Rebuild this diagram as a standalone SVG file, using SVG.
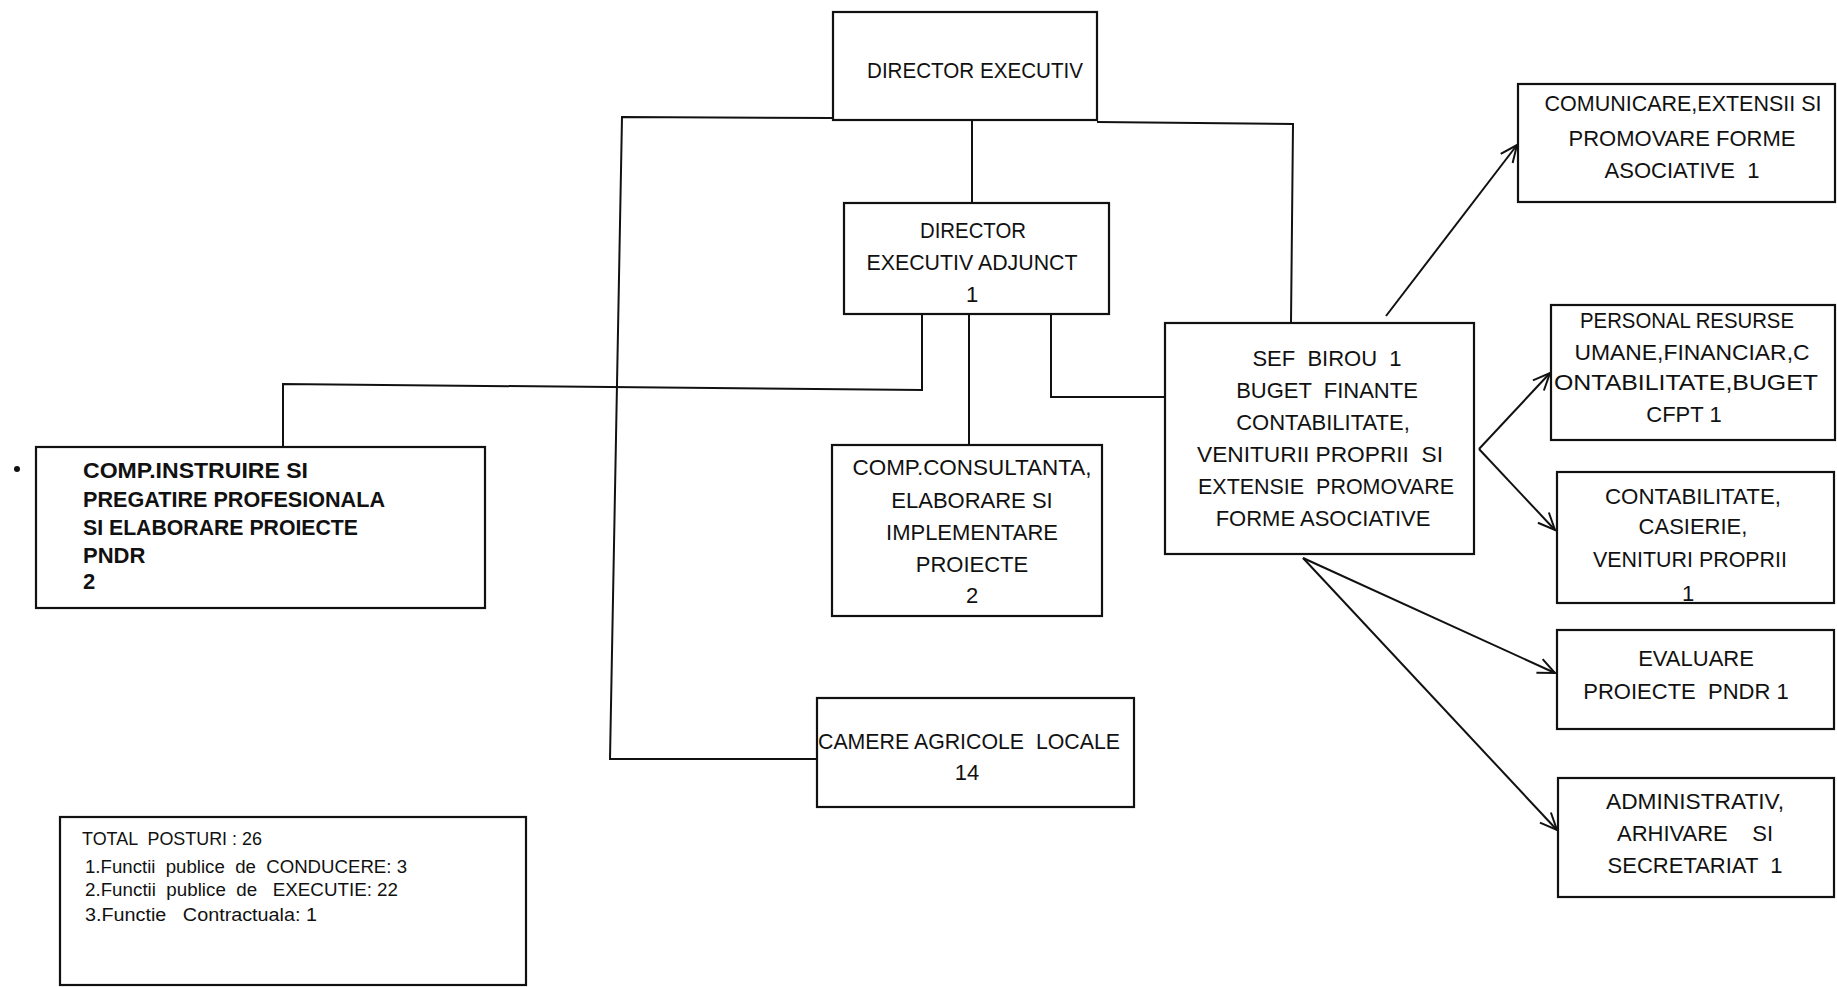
<svg xmlns="http://www.w3.org/2000/svg" width="1837" height="987" viewBox="0 0 1837 987">
<style>
.box{fill:#fff;stroke:#111;stroke-width:2.2}
.t{font-family:"Liberation Sans",Arial,sans-serif;font-size:22px;fill:#111;white-space:pre}
.c{text-anchor:middle}
.b{font-weight:bold}
.s{font-size:17.5px}
.ln{fill:none;stroke:#111;stroke-width:2}
</style>
<defs>
<marker id="arr" markerUnits="userSpaceOnUse" markerWidth="22" markerHeight="18" refX="19" refY="9" orient="auto">
<path d="M2,1.5 L19,9 L2,16.5" fill="none" stroke="#111" stroke-width="2"/>
</marker>
</defs>
<rect width="1837" height="987" fill="#fff"/>
<g id="connectors">
<path class="ln" d="M833,118 L622,117 L610,759 L817,759"/>
<path class="ln" d="M1097,122 L1293,124 L1291,323"/>
<path class="ln" d="M972,120 L972,203"/>
<path class="ln" d="M922,314 L922,390 L283,384 L283,447"/>
<path class="ln" d="M969,314 L969,445"/>
<path class="ln" d="M1051,314 L1051,397 L1165,397"/>
<path class="ln" d="M1386,316 L1517,145" marker-end="url(#arr)"/>
<path class="ln" d="M1479,449 L1550,373" marker-end="url(#arr)"/>
<path class="ln" d="M1479,449 L1555,530" marker-end="url(#arr)"/>
<path class="ln" d="M1303,558 L1555,673" marker-end="url(#arr)"/>
<path class="ln" d="M1303,558 L1557,830" marker-end="url(#arr)"/>
</g>
<g id="director">
<rect class="box" x="833" y="12" width="264" height="108"/>
<text class="t" x="867" y="78" textLength="216" lengthAdjust="spacingAndGlyphs">DIRECTOR EXECUTIV</text>
</g>
<g id="director-adjunct">
<rect class="box" x="844" y="203" width="265" height="111"/>
<text class="t c" x="973" y="238" textLength="106" lengthAdjust="spacingAndGlyphs">DIRECTOR</text>
<text class="t c" x="972" y="270" textLength="211" lengthAdjust="spacingAndGlyphs">EXECUTIV ADJUNCT</text>
<text class="t c" x="972" y="302">1</text>
</g>
<g id="comp-instruire">
<circle cx="17" cy="469" r="3" fill="#111"/>
<rect class="box" x="36" y="447" width="449" height="161"/>
<text class="t b" x="83" y="478" textLength="225" lengthAdjust="spacingAndGlyphs">COMP.INSTRUIRE SI</text>
<text class="t b" x="83" y="507" textLength="302" lengthAdjust="spacingAndGlyphs">PREGATIRE PROFESIONALA</text>
<text class="t b" x="83" y="535" textLength="275" lengthAdjust="spacingAndGlyphs">SI ELABORARE PROIECTE</text>
<text class="t b" x="83" y="563">PNDR</text>
<text class="t b" x="83" y="589">2</text>
</g>
<g id="comp-consultanta">
<rect class="box" x="832" y="445" width="270" height="171"/>
<text class="t c" x="972" y="475" textLength="239" lengthAdjust="spacingAndGlyphs">COMP.CONSULTANTA,</text>
<text class="t c" x="972" y="508">ELABORARE SI</text>
<text class="t c" x="972" y="540">IMPLEMENTARE</text>
<text class="t c" x="972" y="572">PROIECTE</text>
<text class="t c" x="972" y="603">2</text>
</g>
<g id="camere">
<rect class="box" x="817" y="698" width="317" height="109"/>
<text class="t" x="818" y="749" textLength="302" lengthAdjust="spacingAndGlyphs">CAMERE AGRICOLE  LOCALE</text>
<text class="t c" x="967" y="780">14</text>
</g>
<g id="sef-birou">
<rect class="box" x="1165" y="323" width="309" height="231"/>
<text class="t c" x="1327" y="366">SEF  BIROU  1</text>
<text class="t c" x="1327" y="398">BUGET  FINANTE</text>
<text class="t c" x="1323" y="430">CONTABILITATE,</text>
<text class="t c" x="1320" y="462" textLength="246" lengthAdjust="spacingAndGlyphs">VENITURII PROPRII  SI</text>
<text class="t c" x="1326" y="494" textLength="256" lengthAdjust="spacingAndGlyphs">EXTENSIE  PROMOVARE</text>
<text class="t c" x="1323" y="526">FORME ASOCIATIVE</text>
</g>
<g id="comunicare">
<rect class="box" x="1518" y="84" width="317" height="118"/>
<text class="t c" x="1683" y="111" textLength="277" lengthAdjust="spacingAndGlyphs">COMUNICARE,EXTENSII SI</text>
<text class="t c" x="1682" y="146">PROMOVARE FORME</text>
<text class="t c" x="1682" y="178">ASOCIATIVE  1</text>
</g>
<g id="personal">
<rect class="box" x="1551" y="305" width="284" height="135"/>
<text class="t c" x="1687" y="328" textLength="214" lengthAdjust="spacingAndGlyphs">PERSONAL RESURSE</text>
<text class="t c" x="1692" y="360" textLength="235" lengthAdjust="spacingAndGlyphs">UMANE,FINANCIAR,C</text>
<text class="t c" x="1686" y="390" textLength="264" lengthAdjust="spacingAndGlyphs">ONTABILITATE,BUGET</text>
<text class="t c" x="1684" y="422">CFPT 1</text>
</g>
<g id="contabilitate">
<rect class="box" x="1557" y="472" width="277" height="131"/>
<text class="t c" x="1693" y="504" textLength="176" lengthAdjust="spacingAndGlyphs">CONTABILITATE,</text>
<text class="t c" x="1693" y="534">CASIERIE,</text>
<text class="t c" x="1690" y="567" textLength="194" lengthAdjust="spacingAndGlyphs">VENITURI PROPRII</text>
<text class="t c" x="1688" y="601">1</text>
</g>
<g id="evaluare">
<rect class="box" x="1557" y="630" width="277" height="99"/>
<text class="t c" x="1696" y="666">EVALUARE</text>
<text class="t c" x="1686" y="699">PROIECTE  PNDR 1</text>
</g>
<g id="administrativ">
<rect class="box" x="1558" y="778" width="276" height="119"/>
<text class="t c" x="1695" y="809" textLength="178" lengthAdjust="spacingAndGlyphs">ADMINISTRATIV,</text>
<text class="t c" x="1695" y="841">ARHIVARE    SI</text>
<text class="t c" x="1695" y="873">SECRETARIAT  1</text>
</g>
<g id="total">
<rect class="box" x="60" y="817" width="466" height="168"/>
<text class="t s" x="82" y="845" textLength="180" lengthAdjust="spacingAndGlyphs">TOTAL  POSTURI : 26</text>
<text class="t s" x="85" y="873" textLength="322" lengthAdjust="spacingAndGlyphs">1.Functii  publice  de  CONDUCERE: 3</text>
<text class="t s" x="85" y="896" textLength="313" lengthAdjust="spacingAndGlyphs">2.Functii  publice  de   EXECUTIE: 22</text>
<text class="t s" x="85" y="921" textLength="232" lengthAdjust="spacingAndGlyphs">3.Functie   Contractuala: 1</text>
</g>
</svg>
